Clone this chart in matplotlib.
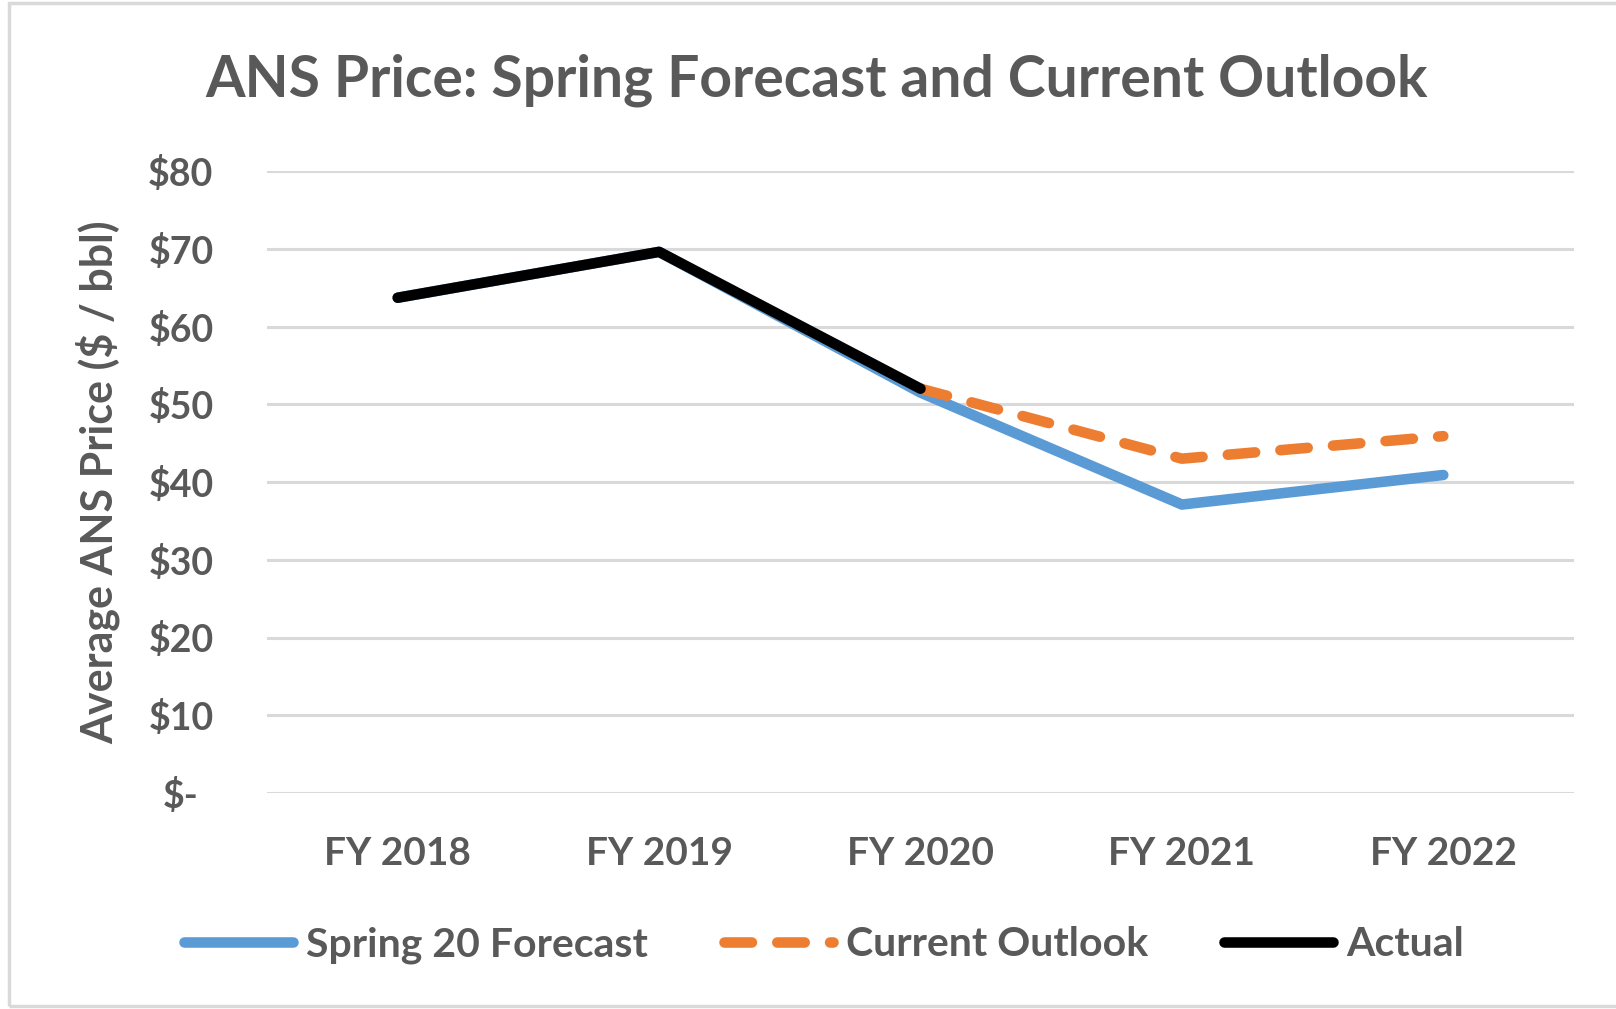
import matplotlib.pyplot as plt
from matplotlib.patches import Rectangle
from matplotlib.lines import Line2D

years = ["FY 2018", "FY 2019", "FY 2020", "FY 2021", "FY 2022"]
spring = [63.7, 69.6, 51.5, 37.1, 40.9]
outlook = [None, None, 52.0, 43.0, 45.9]
actual = [63.7, 69.6, 52.0, None, None]
yticks = [0, 10, 20, 30, 40, 50, 60, 70, 80]
ylabels = ["$-", "$10", "$20", "$30", "$40", "$50", "$60", "$70", "$80"]

gray = "#595959"
plt.rcParams["font.family"] = ["Lato", "DejaVu Sans"]
plt.rcParams["font.weight"] = "bold"

W, H = 1616, 1009
fig = plt.figure(figsize=(W / 100, H / 100), dpi=100)
ax = fig.add_axes([267 / W, 1 - 793 / H, (1574 - 267) / W, (793 - 171) / H])

x = list(range(len(years)))
lw = 7.6
dash = (2.6, 2.4)
ax.plot(x, spring, color="#5b9bd5", lw=lw, solid_capstyle="round", solid_joinstyle="round", zorder=3)
xo = [i for i in x if outlook[i] is not None]
ax.plot(xo, [outlook[i] for i in xo], color="#ed7d31", lw=lw, dashes=dash,
        dash_capstyle="round", zorder=4)
xa = [i for i in x if actual[i] is not None]
ax.plot(xa, [actual[i] for i in xa], color="black", lw=lw, solid_capstyle="round",
        solid_joinstyle="round", zorder=5)

ax.set_xlim(-0.5, 4.5)
ax.set_ylim(0, 80)
ax.set_yticks(yticks)
ax.set_yticklabels(ylabels)
ax.set_xticks(x)
ax.set_xticklabels(years)
ax.grid(axis="y", color="#d9d9d9", lw=2.2, zorder=0)
ax.set_axisbelow(True)
for s in ax.spines.values():
    s.set_visible(False)
ax.tick_params(length=0, labelsize=27, labelcolor=gray)
ax.tick_params(axis="x", labelsize=28, pad=31)
ax.tick_params(axis="y", pad=62)
for t in ax.get_yticklabels():
    t.set_horizontalalignment("center")
ax.set_ylabel("Average ANS Price ($ / bbl)", fontsize=31, color=gray, fontweight="bold")
ax.yaxis.set_label_coords(-0.112, 0.5)

fig.text(0.505, 1 - 80 / H, "ANS Price: Spring Forecast and Current Outlook", ha="center", va="center",
         fontsize=41, color=gray)

handles = [Line2D([], [], color="#5b9bd5", lw=lw, solid_capstyle="round"),
           Line2D([], [], color="#ed7d31", lw=lw, dashes=dash, dash_capstyle="round"),
           Line2D([], [], color="black", lw=lw, solid_capstyle="round")]
fig.legend(handles, ["Spring 20 Forecast", "Current Outlook", "Actual"], ncol=3,
           loc="center", bbox_to_anchor=(0.510, 1 - 945 / H), frameon=False,
           prop={"size": 29.5, "weight": "bold"}, labelcolor=gray,
           handlelength=2.65, handletextpad=0.33, columnspacing=1.85)

fig.patches.append(Rectangle((9 / W, 0.003), 1.2, 1 - 6 / H, transform=fig.transFigure,
                             fill=False, edgecolor="#d9d9d9", lw=2.5))
fig.savefig("out.png", dpi=100)
